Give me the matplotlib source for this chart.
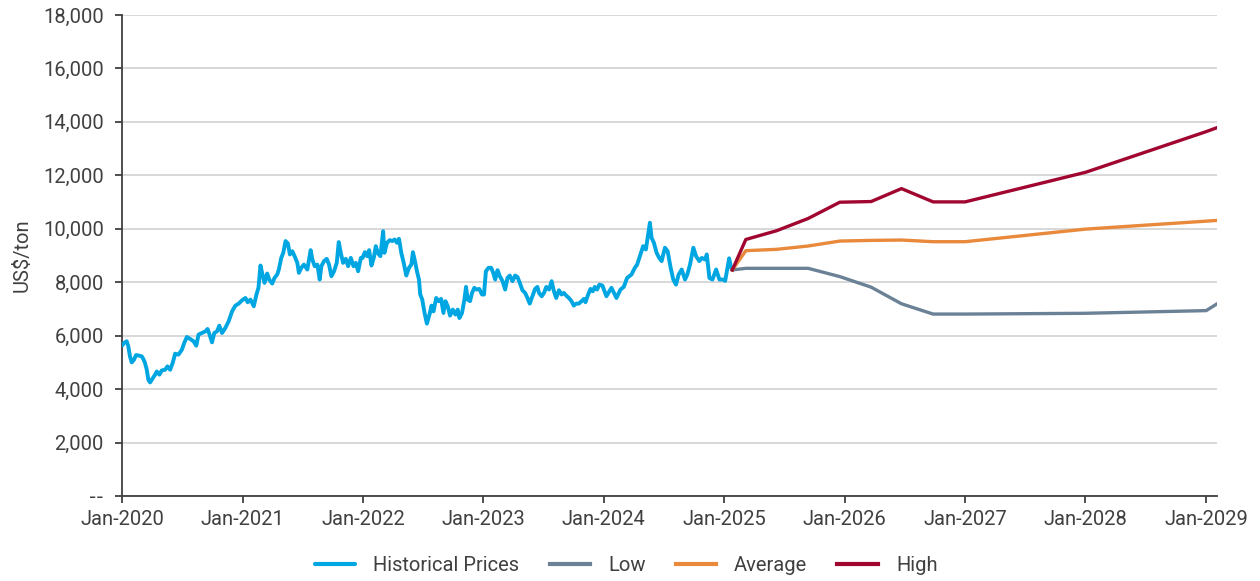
import matplotlib
matplotlib.use("Agg")
import matplotlib.pyplot as plt
import pandas as pd
import numpy as np

plt.rcParams['font.family'] = ['Roboto', 'DejaVu Sans']

# Historical prices: months since Jan-2020, US$/ton
hist_months = [
    0.00, 0.20, 0.47, 0.63, 0.80, 0.97, 1.20, 1.40, 1.73, 1.97, 2.13, 2.30, 2.47, 2.63, 2.80, 2.97,
    3.30, 3.47, 3.73, 3.97, 4.30, 4.53, 4.80, 5.07, 5.30, 5.63, 5.97, 6.20, 6.47, 6.80, 7.13, 7.40,
    7.63, 7.97, 8.30, 8.53, 8.73, 8.97, 9.20, 9.47, 9.70, 9.97, 10.30, 10.63, 10.97, 11.30, 11.63,
    11.97, 12.30, 12.53, 12.80, 13.13, 13.40, 13.60, 13.80, 14.00, 14.20, 14.47, 14.67, 14.97, 15.20,
    15.47, 15.63, 15.87, 16.07, 16.30, 16.53, 16.73, 16.97, 17.20, 17.47, 17.63, 17.87, 18.13, 18.47,
    18.80, 18.97, 19.20, 19.47, 19.70, 19.87, 20.13, 20.40, 20.63, 20.87, 21.13, 21.40, 21.60, 21.80,
    22.03, 22.30, 22.53, 22.80, 23.07, 23.30, 23.53, 23.80,
    23.97, 24.20, 24.43, 24.63, 24.86, 25.09, 25.29, 25.52, 25.75, 26.02, 26.15, 26.41, 26.68, 26.94,
    27.17, 27.40, 27.60, 27.83, 28.07, 28.33, 28.60, 28.83, 28.99, 29.19, 29.39, 29.59, 29.72, 29.92,
    30.15, 30.38, 30.64, 30.84, 31.04, 31.31, 31.57, 31.80, 32.03, 32.23, 32.46, 32.69, 32.96, 33.22,
    33.45, 33.62, 33.88, 34.12, 34.28, 34.45, 34.68, 34.88, 35.11, 35.34, 35.60, 35.87, 36.07, 36.26,
    36.53, 36.79, 36.99, 37.19, 37.42, 37.65, 37.92, 38.18, 38.41, 38.64, 38.91, 39.17, 39.40, 39.64,
    39.90, 40.17, 40.40, 40.63, 40.89, 41.16, 41.39, 41.55, 41.82, 42.05, 42.28, 42.55, 42.81, 43.04,
    43.27, 43.54, 43.80, 44.03, 44.26, 44.53, 44.79, 45.02, 45.26, 45.52, 45.79, 46.02, 46.18, 46.45,
    46.68, 46.91, 47.11, 47.34, 47.57,
    47.87, 48.27, 48.77, 49.27, 49.67, 50.00, 50.33, 50.77, 51.10, 51.33, 51.60, 51.93, 52.20, 52.43,
    52.60, 52.77, 53.00, 53.27, 53.53, 53.77, 54.10, 54.37, 54.67, 54.93, 55.20, 55.47, 55.77, 56.10,
    56.33, 56.60, 56.93, 57.20, 57.53, 57.77, 58.10, 58.27, 58.53, 58.83, 59.20, 59.53, 59.87, 60.10,
    60.50, 60.65, 60.80,
]
hist_values = [
    5625, 5725, 5790, 5600, 5225, 5000, 5100, 5275, 5250, 5225, 5125, 4975, 4725, 4350, 4250, 4350,
    4540, 4660, 4540, 4700, 4725, 4850, 4725, 5000, 5325, 5290, 5475, 5725, 5950, 5875, 5790, 5625,
    6040, 6100, 6160, 6250, 6040, 5750, 6100, 6160, 6375, 6100, 6290, 6540, 6910, 7125, 7200,
    7325, 7410, 7250, 7350, 7100, 7540, 7790, 8625, 8290, 7975, 8325, 8100, 7950, 8160,
    8290, 8475, 8910, 9100, 9540, 9450, 9040, 9160, 8975, 8725, 8350, 8540, 8660, 8475,
    9200, 8850, 8600, 8660, 8100, 8600, 8790, 8875, 8660, 8225, 8410, 8725, 9500, 9100,
    8725, 8875, 8600, 8910, 8600, 8725, 8410, 8910,
    8910, 9125, 8975, 9200, 8625, 8910, 9350, 9075, 8975, 9910, 9100, 9475, 9575, 9540,
    9600, 9475, 9625, 9100, 8725, 8250, 8540, 8660, 9125, 8790, 8410, 8100, 7540, 7350,
    6850, 6450, 6790, 7125, 6910, 7410, 7290, 7375, 6850, 7290, 7100, 6750, 6975, 6790,
    6975, 6660, 6850, 7350, 7825, 7350, 7290, 7600, 7790, 7725, 7750, 7540, 7540, 8410,
    8540, 8540, 8350, 8100, 8450, 8225, 8040, 7725, 8160, 8250, 8040, 8250, 8200, 7975,
    7700, 7600, 7410, 7200, 7475, 7750, 7825, 7600, 7475, 7600, 7825, 7725, 8040, 7660,
    7410, 7700, 7540, 7600, 7500, 7410, 7290, 7125, 7200, 7200, 7290, 7375, 7250, 7540,
    7750, 7660, 7825, 7725, 7910,
    7875, 7475, 7790, 7410, 7725, 7825, 8160, 8290, 8540, 8660, 8975, 9350, 9225, 9790,
    10225, 9660, 9475, 9100, 8910, 8790, 9290, 9160, 8540, 8100, 7910, 8290, 8475, 8100,
    8290, 8660, 9290, 8975, 8790, 8910, 8850, 9040, 8160, 8100, 8475, 8100, 8100, 8050,
    8895, 8600, 8460,
]

# Forecast scenarios
fc_dates = ["2025-01-25", "2025-03-07", "2025-06-08", "2025-09-12", "2025-12-17",
            "2026-03-22", "2026-06-22", "2026-09-26", "2027-01-01", "2028-01-01",
            "2029-01-01", "2029-02-01"]
low_values = [8460, 8520, 8520, 8520, 8210, 7815, 7193, 6808, 6808, 6837, 6937, 7175]
avg_values = [8460, 9180, 9230, 9355, 9540, 9565, 9578, 9516, 9516, 9987, 10285, 10312]
high_values = [8460, 9600, 9925, 10385, 10994, 11019, 11503, 11006, 11006, 12112, 13635, 13775]

series_names = ["Historical Prices", "Low", "Average", "High"]
colors = ["#00A6E2", "#6B8196", "#E8893B", "#A0062F"]
tick_years = list(range(2020, 2030))
y_ticks = list(range(0, 18001, 2000))

hist_dates = pd.Timestamp("2020-01-01") + pd.to_timedelta(np.array(hist_months) * 30.4375, unit="D")
fc_dt = pd.to_datetime(fc_dates)

fs = 14.5
fig = plt.figure(figsize=(12.6, 5.81), dpi=100)
ax = fig.add_axes([0.0968, 0.1463, 0.8691, 0.8279])

ax.plot(hist_dates, hist_values, color=colors[0], lw=2.8, label=series_names[0],
        solid_joinstyle="round", solid_capstyle="round", zorder=3)
ax.plot(fc_dt, low_values, color=colors[1], lw=2.4, label=series_names[1], zorder=3)
ax.plot(fc_dt, avg_values, color=colors[2], lw=2.4, label=series_names[2], zorder=3)
ax.plot(fc_dt, high_values, color=colors[3], lw=2.4, label=series_names[3], zorder=4)

ax.set_ylim(0, 18000)
ax.set_yticks(y_ticks)
ax.set_yticklabels(["--" if v == 0 else f"{v:,}" for v in y_ticks])
ax.get_yticklabels()[0].set_fontfamily("DejaVu Sans")
ax.set_xlim(pd.Timestamp("2020-01-01"), pd.Timestamp("2029-02-03"))
ax.set_xticks([pd.Timestamp(f"{y}-01-01") for y in tick_years])
ax.set_xticklabels([f"Jan-{y}" for y in tick_years])

ax.grid(axis="y", color="#D6D6D6", lw=1.3)
ax.set_axisbelow(True)
for s in ["top", "right"]:
    ax.spines[s].set_visible(False)
for s in ["left", "bottom"]:
    ax.spines[s].set_color("#404040")
    ax.spines[s].set_linewidth(1.3)
ax.tick_params(axis="both", direction="out", length=5, width=1.3, color="#404040",
               labelcolor="#404040", labelsize=fs)
ax.tick_params(axis="y", pad=8)
ax.tick_params(axis="x", pad=5)
ax.set_ylabel("US$/ton", fontsize=fs, color="#404040", labelpad=8)

handles, labels = ax.get_legend_handles_labels()
leg = fig.legend(handles, labels, loc="center", bbox_to_anchor=(0.497, 0.026), ncol=4, frameon=False,
                 fontsize=fs, handlelength=2.0, handletextpad=0.9, columnspacing=1.5)
for t in leg.get_texts():
    t.set_color("#404040")
for l in leg.get_lines():
    l.set_linewidth(3)

fig.savefig("out.png", dpi=100)
